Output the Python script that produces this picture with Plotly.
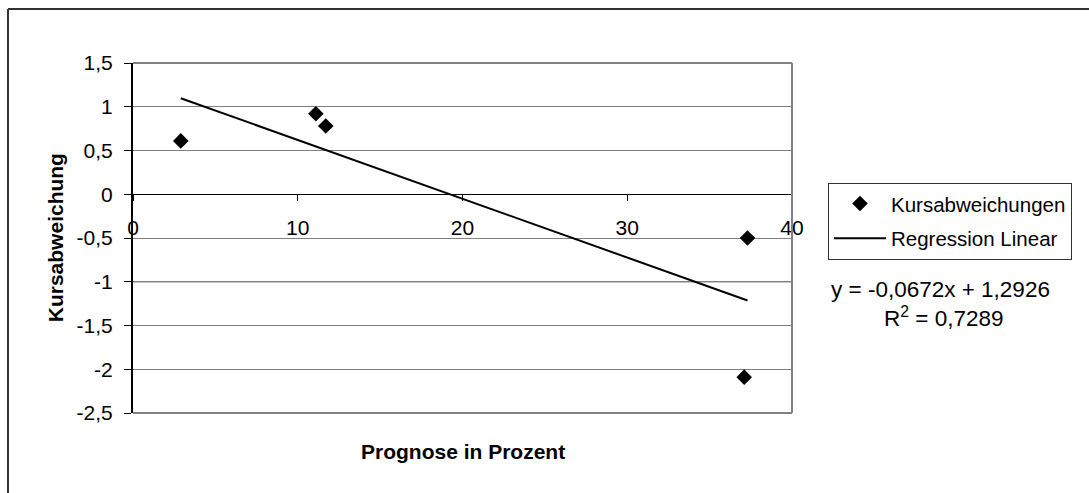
import plotly.graph_objects as go

# Forecast percentage vs. price deviation
prognose = [2.9, 11.1, 11.7, 37.3, 37.1]
kursabweichung = [0.61, 0.92, 0.78, -0.50, -2.09]

# Linear regression result as stated in the chart label
slope = -0.0672
intercept = 1.2926
r_squared = 0.7289

y_ticks = [1.5, 1, 0.5, 0, -0.5, -1, -1.5, -2, -2.5]
y_tick_text = ["1,5", "1", "0,5", "0", "-0,5", "-1", "-1,5", "-2", "-2,5"]
x_ticks = [0, 10, 20, 30, 40]
x_tick_text = ["0", "10", "20", "30", "40"]

y_min, y_max = -2.5, 1.5
x_min, x_max = 0, 40

FONT = "Liberation Sans, Arial, sans-serif"
FS = 21

def de(v, digits):
    return f"{v:.{digits}f}".replace(".", ",")

trend_x = [min(prognose), max(prognose)]
trend_y = [slope * x + intercept for x in trend_x]

fig = go.Figure()
fig.add_trace(go.Scatter(
    x=prognose, y=kursabweichung, mode="markers", name="Kursabweichungen",
    marker=dict(symbol="diamond", size=12, color="black"),
    legendgroup="a",
))
fig.add_trace(go.Scatter(
    x=trend_x, y=trend_y, mode="lines", name="Regression Linear",
    line=dict(color="black", width=2),
    legendgroup="b",
))

shapes = [
    # outer chart frame (left and top edges)
    dict(type="line", xref="paper", yref="paper", x0=-0.1897, x1=-0.1897, y0=1.1543, y1=-0.3,
         line=dict(color="#333333", width=2)),
    dict(type="line", xref="paper", yref="paper", x0=-0.1897, x1=1.6, y0=1.1543, y1=1.1543,
         line=dict(color="#333333", width=2)),
    # plot-area border
    dict(type="line", xref="paper", yref="paper", x0=0, x1=1, y0=1, y1=1,
         line=dict(color="#808080", width=2)),
    dict(type="line", xref="paper", yref="paper", x0=1, x1=1, y0=0, y1=1,
         line=dict(color="#808080", width=2)),
    dict(type="line", xref="paper", yref="paper", x0=0, x1=1, y0=0, y1=0,
         line=dict(color="#808080", width=2)),
    dict(type="line", xref="paper", yref="y", x0=0, x1=1, y0=-1, y1=-1, layer="below",
         line=dict(color="#222222", width=1)),
]

fig.update_layout(
    width=1089, height=493,
    margin=dict(l=133, r=297, t=63, b=80),
    paper_bgcolor="white", plot_bgcolor="white",
    font=dict(family=FONT, size=FS, color="black"),
    showlegend=True,
    legend=dict(
        x=1.0546, y=0.658, xanchor="left", yanchor="top",
        bordercolor="#333333", borderwidth=1, bgcolor="white",
        font=dict(family=FONT, size=FS - 0.5, color="black"),
        itemwidth=52, tracegroupgap=5,
    ),
    xaxis=dict(
        range=[x_min, x_max], anchor="free",
        position=(0 - y_min) / (y_max - y_min),
        tickvals=x_ticks, ticktext=x_tick_text,
        showline=True, linecolor="black", linewidth=1,
        ticks="outside", ticklen=6, tickcolor="black", tickwidth=1,
        showgrid=False, zeroline=False, ticklabelstandoff=9,
        tickfont=dict(family=FONT, size=FS, color="black"),
    ),
    yaxis=dict(
        range=[y_min, y_max],
        tickvals=y_ticks, ticktext=y_tick_text,
        showline=True, linecolor="black", linewidth=2,
        ticks="outside", ticklen=7, tickcolor="black", tickwidth=1,
        showgrid=True, gridcolor="#808080", gridwidth=1.3,
        zeroline=False, ticklabelstandoff=7,
        tickfont=dict(family=FONT, size=FS, color="black"),
    ),
    shapes=shapes,
    annotations=[
        dict(text="<b>Prognose in Prozent</b>", xref="paper", yref="paper",
             x=0.5, y=-0.111, xanchor="center", yanchor="middle", showarrow=False,
             font=dict(family=FONT, size=FS, color="black")),
        dict(text="<b>Kursabweichung</b>", xref="paper", yref="paper",
             x=-0.118, y=0.5, xanchor="center", yanchor="middle", showarrow=False,
             textangle=-90, font=dict(family=FONT, size=FS, color="black")),
        dict(text=f"y = {de(slope, 4)}x + {de(intercept, 4)}", xref="paper", yref="paper",
             x=1.2246, y=0.354, xanchor="center", yanchor="middle", showarrow=False,
             font=dict(family=FONT, size=22.5, color="black")),
        dict(text=f"R<sup>2</sup> = {de(r_squared, 4)}", xref="paper", yref="paper",
             x=1.2306, y=0.274, xanchor="center", yanchor="middle", showarrow=False,
             font=dict(family=FONT, size=22.5, color="black")),
    ],
)

fig.write_html("out.html")
